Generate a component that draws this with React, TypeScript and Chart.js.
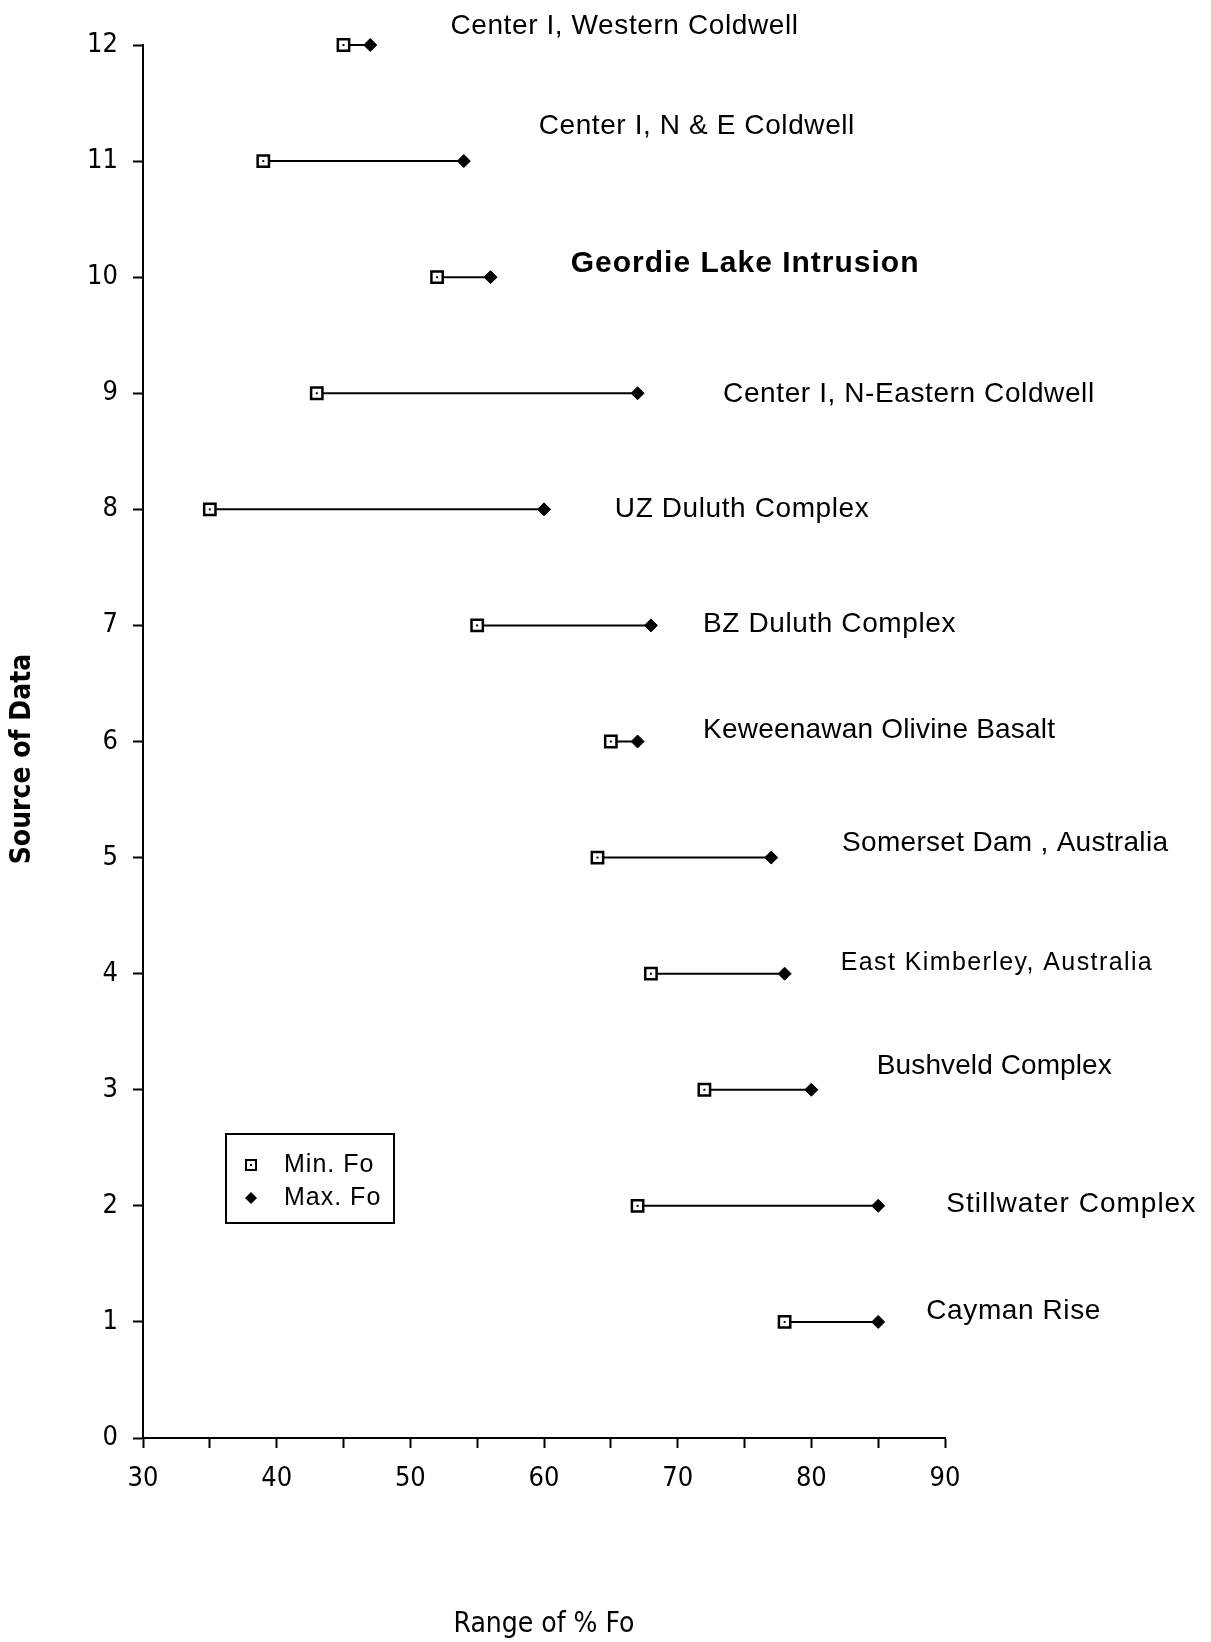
import React, { useEffect, useRef } from "react";
import { Chart, registerables } from "chart.js";

Chart.register(...registerables);

// ---- data ----
const ROWS = [12, 11, 10, 9, 8, 7, 6, 5, 4, 3, 2, 1];
const SOURCES = [
  "Center I, Western Coldwell",
  "Center I, N & E Coldwell",
  "Geordie Lake Intrusion",
  "Center I, N-Eastern Coldwell",
  "UZ Duluth Complex",
  "BZ Duluth Complex",
  "Keweenawan Olivine Basalt",
  "Somerset Dam , Australia",
  "East Kimberley, Australia",
  "Bushveld Complex",
  "Stillwater Complex",
  "Cayman Rise",
];
const MIN_FO = [45, 39, 52, 43, 35, 55, 65, 64, 68, 72, 67, 78];
const MAX_FO = [47, 54, 56, 67, 60, 68, 67, 77, 78, 80, 85, 85];
// label anchors (left edge, vertical centre) in data units
const LABEL_X = [53.0, 59.6, 62.0, 73.4, 65.3, 71.9, 71.9, 82.3, 82.2, 84.9, 90.1, 88.6];
const LABEL_Y = [12.16, 11.3, 10.12, 8.99, 8.0, 7.01, 6.1, 5.12, 4.09, 3.2, 2.01, 1.09];
const X_TICK_STEP = 5;
const X_LABEL_STEP = 10;
const Y_TICK_STEP = 1;
const LEGEND_LABELS = ["Min. Fo", "Max. Fo"];

// ---- styles ----
const NARROW = '"Liberation Sans Narrow", "DejaVu Sans Condensed", sans-serif';
const SANS = '"Liberation Sans", Arial, sans-serif';
const LABEL_STYLES: Record<number, { font: string; spacing: string }> = {
  2: { font: `bold 30px ${SANS}`, spacing: "1px" },
  6: { font: `28px ${SANS}`, spacing: "0.2px" },
  7: { font: `28px ${SANS}`, spacing: "0.3px" },
  8: { font: `25px ${SANS}`, spacing: "1.4px" },
  9: { font: `28px ${SANS}`, spacing: "0.1px" },
  10: { font: `28px ${SANS}`, spacing: "1px" },
};
const DEFAULT_LABEL_STYLE = { font: `28px ${SANS}`, spacing: "0.6px" };

const sourceLabelsPlugin = {
  id: "sourceLabels",
  afterDraw(chart: any) {
    const { ctx, scales } = chart;
    ctx.save();
    ctx.fillStyle = "#000";
    ctx.textAlign = "left";
    ctx.textBaseline = "middle";
    SOURCES.forEach((txt, i) => {
      const st = LABEL_STYLES[i] || DEFAULT_LABEL_STYLE;
      ctx.font = st.font;
      try {
        (ctx as any).letterSpacing = st.spacing;
      } catch (e) {}
      ctx.fillText(txt, scales.x.getPixelForValue(LABEL_X[i]), scales.y.getPixelForValue(LABEL_Y[i]));
    });
    try {
      (ctx as any).letterSpacing = "0px";
    } catch (e) {}
    ctx.restore();
  },
};

const legendPlugin = {
  id: "boxLegend",
  afterDraw(chart: any) {
    const { ctx, chartArea } = chart;
    const left = chartArea.left + 83;
    const top = chartArea.bottom - 304;
    const w = 168;
    const h = 89;
    ctx.save();
    ctx.strokeStyle = "#000";
    ctx.lineWidth = 2;
    ctx.strokeRect(left, top, w, h);
    const mx = left + 25;
    const y1 = top + 31;
    const y2 = top + 64;
    // square marker
    ctx.fillStyle = "#fff";
    ctx.fillRect(mx - 5, y1 - 5, 10, 10);
    ctx.strokeRect(mx - 5, y1 - 5, 10, 10);
    ctx.fillStyle = "#000";
    ctx.fillRect(mx - 1, y1 - 1, 2, 2);
    // diamond marker
    ctx.beginPath();
    ctx.moveTo(mx - 6, y2);
    ctx.lineTo(mx, y2 - 6);
    ctx.lineTo(mx + 6, y2);
    ctx.lineTo(mx, y2 + 6);
    ctx.closePath();
    ctx.fill();
    ctx.font = `25px ${SANS}`;
    try {
      (ctx as any).letterSpacing = "1px";
    } catch (e) {}
    ctx.textAlign = "left";
    ctx.textBaseline = "middle";
    ctx.fillText(LEGEND_LABELS[0], left + 58, y1);
    ctx.fillText(LEGEND_LABELS[1], left + 58, y2);
    ctx.restore();
  },
};

export default function App() {
  const ref = useRef<HTMLCanvasElement | null>(null);

  useEffect(() => {
    if (!ref.current) return;
    const lineSets = ROWS.map((r, i) => ({
      type: "line" as const,
      label: "range" + r,
      data: [
        { x: MIN_FO[i], y: r },
        { x: MAX_FO[i], y: r },
      ],
      borderColor: "#000",
      borderWidth: 2,
      pointRadius: 0,
      showLine: true,
      clip: false,
      order: 3,
    }));
    const chart = new Chart(ref.current, {
      type: "scatter",
      data: {
        datasets: [
          ...lineSets,
          {
            label: LEGEND_LABELS[0],
            data: ROWS.map((r, i) => ({ x: MIN_FO[i], y: r })),
            pointStyle: "rect",
            pointRadius: 8,
            pointBorderWidth: 2.5,
            pointBackgroundColor: "#fff",
            pointBorderColor: "#000",
            clip: false,
            order: 1,
          },
          {
            label: "minDot",
            data: ROWS.map((r, i) => ({ x: MIN_FO[i], y: r })),
            pointStyle: "rect",
            pointRadius: 1.4,
            pointBorderWidth: 0,
            pointBackgroundColor: "#000",
            clip: false,
            order: 0,
          },
          {
            label: LEGEND_LABELS[1],
            data: ROWS.map((r, i) => ({ x: MAX_FO[i], y: r })),
            pointStyle: "rectRot",
            pointRadius: 6.5,
            pointBorderWidth: 1,
            pointBackgroundColor: "#000",
            pointBorderColor: "#000",
            clip: false,
            order: 1,
          },
        ] as any,
      },
      options: {
        animation: false,
        responsive: false,
        devicePixelRatio: 1,
        events: [],
        layout: { padding: { left: 0, right: 266, top: 45, bottom: 0 } },
        plugins: { legend: { display: false }, tooltip: { enabled: false } },
        scales: {
          x: {
            type: "linear",
            min: 30,
            max: 90,
            afterFit: (s: any) => {
              s.height = 204;
            },
            ticks: {
              stepSize: X_TICK_STEP,
              autoSkip: false,
              maxRotation: 0,
              padding: 15,
              color: "#000",
              font: { family: NARROW, size: 27 },
              callback: (v: any) => (Number(v) % X_LABEL_STEP === 0 ? String(v) : ""),
            },
            grid: { drawOnChartArea: false, tickLength: 10, tickColor: "#000", tickWidth: 2 },
            border: { color: "#000", width: 2 },
            title: {
              display: true,
              text: "Range of % Fo",
              color: "#000",
              font: { family: NARROW, size: 28 },
              padding: { top: 0, bottom: 0 },
            },
          },
          y: {
            type: "linear",
            min: 0,
            max: 12,
            afterFit: (s: any) => {
              s.width = 143;
            },
            ticks: {
              stepSize: Y_TICK_STEP,
              padding: 15,
              color: "#000",
              font: { family: NARROW, size: 27 },
            },
            grid: { drawOnChartArea: false, tickLength: 10, tickColor: "#000", tickWidth: 2 },
            border: { color: "#000", width: 2 },
            title: {
              display: true,
              text: "Source of Data    ",
              color: "#000",
              font: { family: NARROW, size: 28, weight: "bold" },
              padding: { top: 6, bottom: 0 },
            },
          },
        },
      } as any,
      plugins: [sourceLabelsPlugin, legendPlugin],
    });
    return () => chart.destroy();
  }, []);

  return (
    <div style={{ position: "absolute", left: 0, top: 0, width: 1211, height: 1642, background: "#fff" }}>
      <canvas ref={ref} width={1211} height={1642} style={{ display: "block" }} />
    </div>
  );
}
